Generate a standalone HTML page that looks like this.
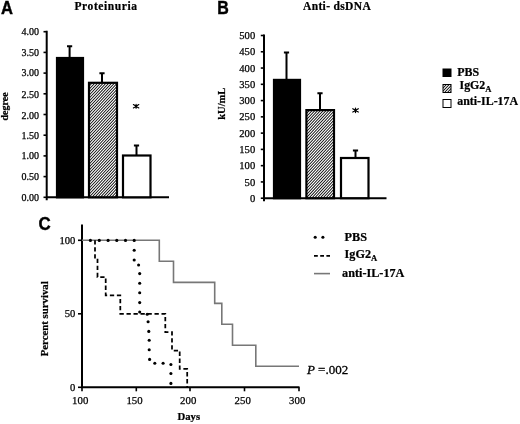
<!DOCTYPE html>
<html><head><meta charset="utf-8"><title>Figure</title>
<style>
html,body{margin:0;padding:0;background:#fff;}
body{width:520px;height:424px;overflow:hidden;}
svg{display:block;will-change:transform;}
text{font-family:"Liberation Serif",serif;fill:#000;}
.s{font-family:"Liberation Sans",sans-serif;font-weight:bold;}
.b{font-weight:bold;stroke:#000;stroke-width:0.22px;}
.t{stroke:#000;stroke-width:0.25px;}
</style></head><body>
<svg width="520" height="424" viewBox="0 0 520 424">
<rect width="520" height="424" fill="#fff"/>

<text class="s" transform="translate(1,13.8) scale(0.93,1)" font-size="17.8" stroke="#000" stroke-width="0.4">A</text>
<text class="s" transform="translate(217.2,13.8) scale(0.9,1)" font-size="17.8" stroke="#000" stroke-width="0.4">B</text>
<text class="s" transform="translate(38.6,230) scale(0.95,1)" font-size="17.8" stroke="#000" stroke-width="0.4">C</text>
<text class="b" x="74.5" y="9.5" font-size="11.5" letter-spacing="0.58">Proteinuria</text>
<text class="b" x="303" y="9.5" font-size="11.5" letter-spacing="0.35" xml:space="preserve">Anti- dsDNA</text>
<path d="M46.7,30.7 V200.3 M46.7,197.3 H169" stroke="#000" stroke-width="2" fill="none"/>
<path d="M43.5,197.3 H46.7" stroke="#000" stroke-width="1.6"/>
<text class="t" x="39" y="200.6" font-size="10" text-anchor="end">0.00</text>
<path d="M43.5,176.6 H46.7" stroke="#000" stroke-width="1.6"/>
<text class="t" x="39" y="180.4" font-size="10" text-anchor="end">0.50</text>
<path d="M43.5,155.9 H46.7" stroke="#000" stroke-width="1.6"/>
<text class="t" x="39" y="159.2" font-size="10" text-anchor="end">1.00</text>
<path d="M43.5,135.2 H46.7" stroke="#000" stroke-width="1.6"/>
<text class="t" x="39" y="138.5" font-size="10" text-anchor="end">1.50</text>
<path d="M43.5,114.5 H46.7" stroke="#000" stroke-width="1.6"/>
<text class="t" x="39" y="119.1" font-size="10" text-anchor="end">2.00</text>
<path d="M43.5,93.8 H46.7" stroke="#000" stroke-width="1.6"/>
<text class="t" x="39" y="97.6" font-size="10" text-anchor="end">2.50</text>
<path d="M43.5,73.1 H46.7" stroke="#000" stroke-width="1.6"/>
<text class="t" x="39" y="76.4" font-size="10" text-anchor="end">3.00</text>
<path d="M43.5,52.4 H46.7" stroke="#000" stroke-width="1.6"/>
<text class="t" x="39" y="55.7" font-size="10" text-anchor="end">3.50</text>
<path d="M43.5,31.7 H46.7" stroke="#000" stroke-width="1.6"/>
<text class="t" x="39" y="35" font-size="10" text-anchor="end">4.00</text>
<text class="b" transform="translate(7.8,106.5) rotate(-90)" font-size="10" text-anchor="middle">degree</text>
<path d="M69.6,58 V46.3 M67.0,46.3 H72.19999999999999" stroke="#000" stroke-width="2" fill="none"/>
<rect x="57" y="58" width="26" height="139.3" fill="#000" stroke="#000" stroke-width="2.2"/>
<path d="M102,82.8 V73.3 M99.4,73.3 H104.6" stroke="#000" stroke-width="2" fill="none"/>
<rect x="89" y="82.8" width="28" height="114.5" fill="#fff"/>
<clipPath id="c1"><rect x="89" y="82.8" width="28" height="114.5"/></clipPath>
<path clip-path="url(#c1)" d="M-20.67,197.3 L86.2,82.8 L87.43,82.8 L-19.43,197.3Z M-17.87,197.3 L89,82.8 L90.23,82.8 L-16.63,197.3Z M-15.07,197.3 L91.8,82.8 L93.03,82.8 L-13.83,197.3Z M-12.27,197.3 L94.6,82.8 L95.83,82.8 L-11.03,197.3Z M-9.47,197.3 L97.4,82.8 L98.63,82.8 L-8.23,197.3Z M-6.67,197.3 L100.2,82.8 L101.43,82.8 L-5.43,197.3Z M-3.87,197.3 L103,82.8 L104.23,82.8 L-2.63,197.3Z M-1.07,197.3 L105.8,82.8 L107.03,82.8 L0.17,197.3Z M1.73,197.3 L108.6,82.8 L109.83,82.8 L2.97,197.3Z M4.53,197.3 L111.4,82.8 L112.63,82.8 L5.77,197.3Z M7.33,197.3 L114.2,82.8 L115.43,82.8 L8.57,197.3Z M10.13,197.3 L117,82.8 L118.23,82.8 L11.37,197.3Z M12.93,197.3 L119.8,82.8 L121.03,82.8 L14.17,197.3Z M15.73,197.3 L122.6,82.8 L123.83,82.8 L16.97,197.3Z M18.53,197.3 L125.4,82.8 L126.63,82.8 L19.77,197.3Z M21.33,197.3 L128.2,82.8 L129.43,82.8 L22.57,197.3Z M24.13,197.3 L131,82.8 L132.23,82.8 L25.37,197.3Z M26.93,197.3 L133.8,82.8 L135.03,82.8 L28.17,197.3Z M29.73,197.3 L136.6,82.8 L137.83,82.8 L30.97,197.3Z M32.53,197.3 L139.4,82.8 L140.63,82.8 L33.77,197.3Z M35.33,197.3 L142.2,82.8 L143.43,82.8 L36.57,197.3Z M38.13,197.3 L145,82.8 L146.23,82.8 L39.37,197.3Z M40.93,197.3 L147.8,82.8 L149.03,82.8 L42.17,197.3Z M43.73,197.3 L150.6,82.8 L151.83,82.8 L44.97,197.3Z M46.53,197.3 L153.4,82.8 L154.63,82.8 L47.77,197.3Z M49.33,197.3 L156.2,82.8 L157.43,82.8 L50.57,197.3Z M52.13,197.3 L159,82.8 L160.23,82.8 L53.37,197.3Z M54.93,197.3 L161.8,82.8 L163.03,82.8 L56.17,197.3Z M57.73,197.3 L164.6,82.8 L165.83,82.8 L58.97,197.3Z M60.53,197.3 L167.4,82.8 L168.63,82.8 L61.77,197.3Z M63.33,197.3 L170.2,82.8 L171.43,82.8 L64.57,197.3Z M66.13,197.3 L173,82.8 L174.23,82.8 L67.37,197.3Z M68.93,197.3 L175.8,82.8 L177.03,82.8 L70.17,197.3Z M71.73,197.3 L178.6,82.8 L179.83,82.8 L72.97,197.3Z M74.53,197.3 L181.4,82.8 L182.63,82.8 L75.77,197.3Z M77.33,197.3 L184.2,82.8 L185.43,82.8 L78.57,197.3Z M80.13,197.3 L187,82.8 L188.23,82.8 L81.37,197.3Z M82.93,197.3 L189.8,82.8 L191.03,82.8 L84.17,197.3Z M85.73,197.3 L192.6,82.8 L193.83,82.8 L86.97,197.3Z M88.53,197.3 L195.4,82.8 L196.63,82.8 L89.77,197.3Z M91.33,197.3 L198.2,82.8 L199.43,82.8 L92.57,197.3Z M94.13,197.3 L201,82.8 L202.23,82.8 L95.37,197.3Z M96.93,197.3 L203.8,82.8 L205.03,82.8 L98.17,197.3Z M99.73,197.3 L206.6,82.8 L207.83,82.8 L100.97,197.3Z M102.53,197.3 L209.4,82.8 L210.63,82.8 L103.77,197.3Z M105.33,197.3 L212.2,82.8 L213.43,82.8 L106.57,197.3Z M108.13,197.3 L215,82.8 L216.23,82.8 L109.37,197.3Z M110.93,197.3 L217.8,82.8 L219.03,82.8 L112.17,197.3Z M113.73,197.3 L220.6,82.8 L221.83,82.8 L114.97,197.3Z M116.53,197.3 L223.4,82.8 L224.63,82.8 L117.77,197.3Z M119.33,197.3 L226.2,82.8 L227.43,82.8 L120.57,197.3Z" fill="#000" stroke="none"/>
<rect x="89" y="82.8" width="28" height="114.5" fill="none" stroke="#000" stroke-width="2.2"/>
<path d="M136.5,155.5 V145.5 M133.9,145.5 H139.1" stroke="#000" stroke-width="2" fill="none"/>
<rect x="123" y="155.5" width="27.5" height="41.8" fill="#fff" stroke="#000" stroke-width="2.2"/>
<path d="M133.4,104.6 L138.8,107.9 M133.4,107.9 L138.8,104.6 M136.1,104.3 V108.2" stroke="#000" stroke-width="1.2" stroke-linecap="round"/><circle cx="136.1" cy="106.25" r="1.25"/>
<path d="M264,34.5 V201.2 M264,198.2 H386.5" stroke="#000" stroke-width="2" fill="none"/>
<path d="M260.8,198.2 H264" stroke="#000" stroke-width="1.6"/>
<text class="t" x="255.2" y="201.8" font-size="10.6" text-anchor="end">0</text>
<path d="M260.8,181.93 H264" stroke="#000" stroke-width="1.6"/>
<text class="t" x="255.2" y="185.53" font-size="10.6" text-anchor="end">50</text>
<path d="M260.8,165.66 H264" stroke="#000" stroke-width="1.6"/>
<text class="t" x="255.2" y="169.26" font-size="10.6" text-anchor="end">100</text>
<path d="M260.8,149.39 H264" stroke="#000" stroke-width="1.6"/>
<text class="t" x="255.2" y="152.99" font-size="10.6" text-anchor="end">150</text>
<path d="M260.8,133.12 H264" stroke="#000" stroke-width="1.6"/>
<text class="t" x="255.2" y="136.72" font-size="10.6" text-anchor="end">200</text>
<path d="M260.8,116.85 H264" stroke="#000" stroke-width="1.6"/>
<text class="t" x="255.2" y="120.45" font-size="10.6" text-anchor="end">250</text>
<path d="M260.8,100.58 H264" stroke="#000" stroke-width="1.6"/>
<text class="t" x="255.2" y="104.18" font-size="10.6" text-anchor="end">300</text>
<path d="M260.8,84.31 H264" stroke="#000" stroke-width="1.6"/>
<text class="t" x="255.2" y="87.91" font-size="10.6" text-anchor="end">350</text>
<path d="M260.8,68.04 H264" stroke="#000" stroke-width="1.6"/>
<text class="t" x="255.2" y="71.64" font-size="10.6" text-anchor="end">400</text>
<path d="M260.8,51.77 H264" stroke="#000" stroke-width="1.6"/>
<text class="t" x="255.2" y="55.37" font-size="10.6" text-anchor="end">450</text>
<path d="M260.8,35.5 H264" stroke="#000" stroke-width="1.6"/>
<text class="t" x="255.2" y="39.1" font-size="10.6" text-anchor="end">500</text>
<text class="b" transform="translate(224.8,103.7) rotate(-90)" font-size="10.5" text-anchor="middle">kU/mL</text>
<path d="M286.5,79.9 V52.6 M283.9,52.6 H289.1" stroke="#000" stroke-width="2" fill="none"/>
<rect x="274" y="79.9" width="26" height="118.3" fill="#000" stroke="#000" stroke-width="2.2"/>
<path d="M320,110.1 V93.3 M317.4,93.3 H322.6" stroke="#000" stroke-width="2" fill="none"/>
<rect x="306.4" y="110.1" width="27.6" height="88.1" fill="#fff"/>
<clipPath id="c2"><rect x="306.4" y="110.1" width="27.6" height="88.1"/></clipPath>
<path clip-path="url(#c2)" d="M221.37,198.2 L303.6,110.1 L304.83,110.1 L222.61,198.2Z M224.17,198.2 L306.4,110.1 L307.63,110.1 L225.41,198.2Z M226.97,198.2 L309.2,110.1 L310.43,110.1 L228.21,198.2Z M229.77,198.2 L312,110.1 L313.23,110.1 L231.01,198.2Z M232.57,198.2 L314.8,110.1 L316.03,110.1 L233.81,198.2Z M235.37,198.2 L317.6,110.1 L318.83,110.1 L236.61,198.2Z M238.17,198.2 L320.4,110.1 L321.63,110.1 L239.41,198.2Z M240.97,198.2 L323.2,110.1 L324.43,110.1 L242.21,198.2Z M243.77,198.2 L326,110.1 L327.23,110.1 L245.01,198.2Z M246.57,198.2 L328.8,110.1 L330.03,110.1 L247.81,198.2Z M249.37,198.2 L331.6,110.1 L332.83,110.1 L250.61,198.2Z M252.17,198.2 L334.4,110.1 L335.63,110.1 L253.41,198.2Z M254.97,198.2 L337.2,110.1 L338.43,110.1 L256.21,198.2Z M257.77,198.2 L340,110.1 L341.23,110.1 L259.01,198.2Z M260.57,198.2 L342.8,110.1 L344.03,110.1 L261.81,198.2Z M263.37,198.2 L345.6,110.1 L346.83,110.1 L264.61,198.2Z M266.17,198.2 L348.4,110.1 L349.63,110.1 L267.41,198.2Z M268.97,198.2 L351.2,110.1 L352.43,110.1 L270.21,198.2Z M271.77,198.2 L354,110.1 L355.23,110.1 L273.01,198.2Z M274.57,198.2 L356.8,110.1 L358.03,110.1 L275.81,198.2Z M277.37,198.2 L359.6,110.1 L360.83,110.1 L278.61,198.2Z M280.17,198.2 L362.4,110.1 L363.63,110.1 L281.41,198.2Z M282.97,198.2 L365.2,110.1 L366.43,110.1 L284.21,198.2Z M285.77,198.2 L368,110.1 L369.23,110.1 L287.01,198.2Z M288.57,198.2 L370.8,110.1 L372.03,110.1 L289.81,198.2Z M291.37,198.2 L373.6,110.1 L374.83,110.1 L292.61,198.2Z M294.17,198.2 L376.4,110.1 L377.63,110.1 L295.41,198.2Z M296.97,198.2 L379.2,110.1 L380.43,110.1 L298.21,198.2Z M299.77,198.2 L382,110.1 L383.23,110.1 L301.01,198.2Z M302.57,198.2 L384.8,110.1 L386.03,110.1 L303.81,198.2Z M305.37,198.2 L387.6,110.1 L388.83,110.1 L306.61,198.2Z M308.17,198.2 L390.4,110.1 L391.63,110.1 L309.41,198.2Z M310.97,198.2 L393.2,110.1 L394.43,110.1 L312.21,198.2Z M313.77,198.2 L396,110.1 L397.23,110.1 L315.01,198.2Z M316.57,198.2 L398.8,110.1 L400.03,110.1 L317.81,198.2Z M319.37,198.2 L401.6,110.1 L402.83,110.1 L320.61,198.2Z M322.17,198.2 L404.4,110.1 L405.63,110.1 L323.41,198.2Z M324.97,198.2 L407.2,110.1 L408.43,110.1 L326.21,198.2Z M327.77,198.2 L410,110.1 L411.23,110.1 L329.01,198.2Z M330.57,198.2 L412.8,110.1 L414.03,110.1 L331.81,198.2Z M333.37,198.2 L415.6,110.1 L416.83,110.1 L334.61,198.2Z M336.17,198.2 L418.4,110.1 L419.63,110.1 L337.41,198.2Z" fill="#000" stroke="none"/>
<rect x="306.4" y="110.1" width="27.6" height="88.1" fill="none" stroke="#000" stroke-width="2.2"/>
<path d="M355.5,158 V150.5 M352.9,150.5 H358.1" stroke="#000" stroke-width="2" fill="none"/>
<rect x="341" y="158" width="27.5" height="40.2" fill="#fff" stroke="#000" stroke-width="2.2"/>
<path d="M352.8,108.7 L358.3,112 M352.8,112 L358.3,108.7 M355.5,108.1 V112.6" stroke="#000" stroke-width="1.25" stroke-linecap="round"/><circle cx="355.5" cy="110.4" r="1.2"/>
<rect x="442.5" y="68.5" width="9" height="8.5" fill="#000"/>
<rect x="443" y="84.5" width="8" height="8" fill="#fff"/>
<clipPath id="c3"><rect x="443" y="84.5" width="8" height="8"/></clipPath>
<path clip-path="url(#c3)" d="M432.73,92.5 L440.2,84.5 L441.43,84.5 L433.97,92.5Z M435.53,92.5 L443,84.5 L444.23,84.5 L436.77,92.5Z M438.33,92.5 L445.8,84.5 L447.03,84.5 L439.57,92.5Z M441.13,92.5 L448.6,84.5 L449.83,84.5 L442.37,92.5Z M443.93,92.5 L451.4,84.5 L452.63,84.5 L445.17,92.5Z M446.73,92.5 L454.2,84.5 L455.43,84.5 L447.97,92.5Z M449.53,92.5 L457,84.5 L458.23,84.5 L450.77,92.5Z M452.33,92.5 L459.8,84.5 L461.03,84.5 L453.57,92.5Z" fill="#000" stroke="none"/>
<rect x="443" y="84.5" width="8" height="8" fill="none" stroke="#000" stroke-width="1"/>
<rect x="443" y="99.5" width="8" height="8" fill="#fff" stroke="#000" stroke-width="1"/>
<text class="b" x="457.3" y="76" font-size="11.9">PBS</text>
<text class="b" x="459.5" y="88.5" font-size="11.9">IgG2<tspan font-size="8.5" dy="3">A</tspan></text>
<text class="b" x="457.3" y="105.3" font-size="11.9">anti-IL-17A</text>
<path d="M82,224.5 V387.3 H299.5" stroke="#000" stroke-width="2" fill="none"/>
<path d="M78,387.3 H82" stroke="#000" stroke-width="1.6"/>
<text class="t" x="75.4" y="390.9" font-size="10.6" text-anchor="end">0</text>
<path d="M78,313.8 H82" stroke="#000" stroke-width="1.6"/>
<text class="t" x="75.4" y="317.4" font-size="10.6" text-anchor="end">50</text>
<path d="M78,240.3 H82" stroke="#000" stroke-width="1.6"/>
<text class="t" x="75.4" y="243.9" font-size="10.6" text-anchor="end">100</text>
<path d="M82,387.3 V391.3" stroke="#000" stroke-width="1.6"/>
<text class="t" x="80.2" y="403.8" font-size="10.8" text-anchor="middle">100</text>
<path d="M136.3,387.3 V391.3" stroke="#000" stroke-width="1.6"/>
<text class="t" x="134.5" y="403.8" font-size="10.8" text-anchor="middle">150</text>
<path d="M190,387.3 V391.3" stroke="#000" stroke-width="1.6"/>
<text class="t" x="188.2" y="403.8" font-size="10.8" text-anchor="middle">200</text>
<path d="M244.5,387.3 V391.3" stroke="#000" stroke-width="1.6"/>
<text class="t" x="242.7" y="403.8" font-size="10.8" text-anchor="middle">250</text>
<path d="M299,387.3 V391.3" stroke="#000" stroke-width="1.6"/>
<text class="t" x="297.2" y="403.8" font-size="10.8" text-anchor="middle">300</text>
<text class="b" transform="translate(48.4,318.8) rotate(-90)" font-size="10.8" text-anchor="middle">Percent survival</text>
<text class="b" x="188.8" y="419.9" font-size="10.7" text-anchor="middle">Days</text>
<path d="M82,240.3 L159.3,240.3 L159.3,261.32 L173.5,261.32 L173.5,282.34 L214.7,282.34 L214.7,303.36 L221.8,303.36 L221.8,324.24 L232.5,324.24 L232.5,345.26 L255.8,345.26 L255.8,366.28 L299,366.28" stroke="#777" stroke-width="1.6" fill="none"/>
<path d="M95,240.3 L95,258.68 L97.5,258.68 L97.5,277.05 L105.7,277.05 L105.7,295.43 L120.3,295.43 L120.3,313.8 L165.3,313.8 L165.3,332.18 L172,332.18 L172,350.55 L179.7,350.55 L179.7,368.93 L187.2,368.93 L187.2,387.3" stroke="#000" stroke-width="1.75" fill="none" stroke-dasharray="4.3,2.7"/>
<circle cx="90.4" cy="240.4" r="1.55" fill="#000"/>
<circle cx="99.3" cy="240.4" r="1.55" fill="#000"/>
<circle cx="108.1" cy="240.4" r="1.55" fill="#000"/>
<circle cx="116.8" cy="240.4" r="1.55" fill="#000"/>
<circle cx="125.5" cy="240.4" r="1.55" fill="#000"/>
<circle cx="134.2" cy="240.4" r="1.55" fill="#000"/>
<circle cx="134.2" cy="250.2" r="1.55" fill="#000"/>
<circle cx="134.2" cy="260" r="1.55" fill="#000"/>
<circle cx="138.6" cy="265" r="1.55" fill="#000"/>
<circle cx="139.7" cy="273.6" r="1.55" fill="#000"/>
<circle cx="139.7" cy="283.2" r="1.55" fill="#000"/>
<circle cx="139.7" cy="292.8" r="1.55" fill="#000"/>
<circle cx="139.7" cy="302.6" r="1.55" fill="#000"/>
<circle cx="139.7" cy="312" r="1.55" fill="#000"/>
<circle cx="147.2" cy="314.3" r="1.55" fill="#000"/>
<circle cx="148.1" cy="321.8" r="1.55" fill="#000"/>
<circle cx="148.8" cy="331.4" r="1.55" fill="#000"/>
<circle cx="149.2" cy="340.3" r="1.55" fill="#000"/>
<circle cx="149.2" cy="349.7" r="1.55" fill="#000"/>
<circle cx="149.6" cy="359.4" r="1.55" fill="#000"/>
<circle cx="154.8" cy="363.2" r="1.55" fill="#000"/>
<circle cx="163.1" cy="363.2" r="1.55" fill="#000"/>
<circle cx="170.9" cy="364.5" r="1.55" fill="#000"/>
<circle cx="170.9" cy="373.5" r="1.55" fill="#000"/>
<circle cx="170.9" cy="383.4" r="1.55" fill="#000"/>
<circle cx="315.2" cy="237.3" r="1.55" fill="#000"/>
<circle cx="322.9" cy="237.3" r="1.55" fill="#000"/>
<path d="M314,255.8 H330" stroke="#000" stroke-width="1.75" stroke-dasharray="3.8,2.4"/>
<path d="M314,273.6 H330" stroke="#777" stroke-width="1.6"/>
<text class="b" x="344.6" y="241" font-size="12.2">PBS</text>
<text class="b" x="344.6" y="258.2" font-size="12.2">IgG2<tspan font-size="8.5" dy="3">A</tspan></text>
<text class="b" x="342.1" y="277.3" font-size="12.2">anti-IL-17A</text>
<text x="306.9" y="373.8" font-size="13" stroke="#000" stroke-width="0.3"><tspan font-style="italic">P</tspan> =.002</text>
</svg></body></html>
